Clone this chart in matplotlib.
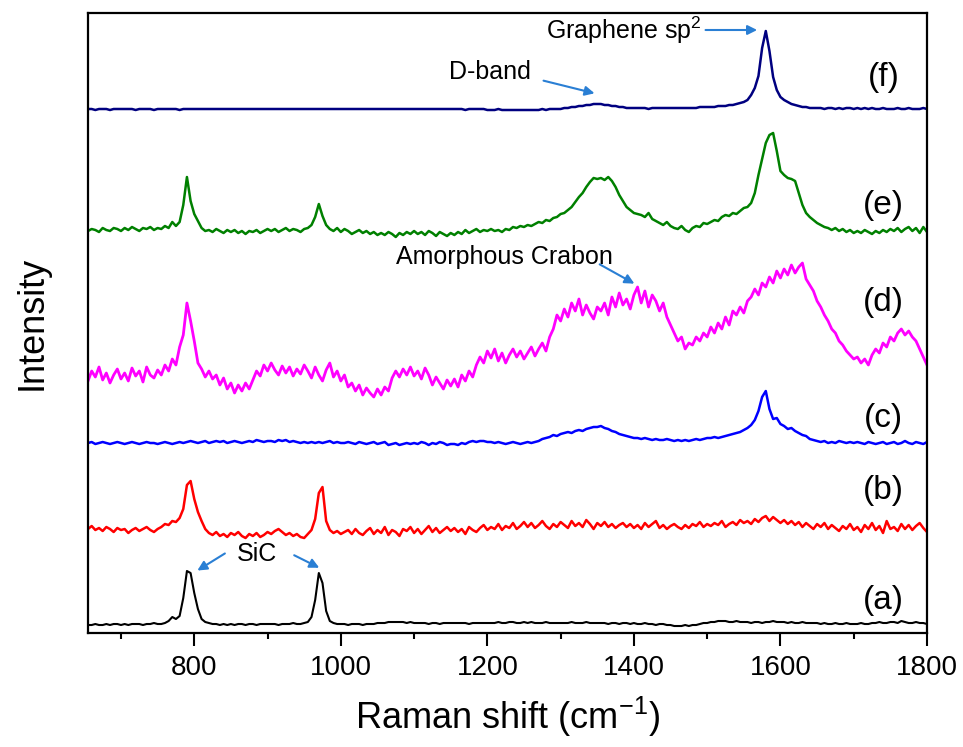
import numpy as np
import matplotlib
matplotlib.use("Agg")
import matplotlib.pyplot as plt

plt.rcParams['font.family'] = ['Liberation Sans', 'DejaVu Sans']
plt.rcParams['mathtext.fontset'] = 'custom'
plt.rcParams['mathtext.rm'] = 'Liberation Sans'
plt.rcParams['mathtext.default'] = 'regular'

# Raman shift grid (cm^-1), 5 cm^-1 steps from 655 to 1800
wn = np.arange(655, 1801, 5)

# intensities (arbitrary units, stacked offsets included)
spec_a = [8, 8, 9, 8, 8, 9, 8, 9, 9, 8,
          9, 8, 9, 9, 9, 8, 9, 9, 10, 9,
          9, 10, 12, 16, 14, 17, 35, 62, 60, 40,
          24, 14, 11, 10, 9, 9, 8, 9, 8, 9,
          8, 9, 9, 8, 9, 9, 8, 9, 9, 9,
          9, 9, 8, 9, 9, 9, 10, 9, 9, 10,
          11, 16, 33, 60, 50, 22, 12, 10, 9, 9,
          9, 8, 9, 9, 9, 8, 9, 9, 9, 10,
          10, 10, 11, 11, 11, 11, 11, 10, 11, 10,
          10, 10, 10, 9, 10, 10, 9, 10, 10, 10,
          10, 10, 10, 10, 9, 10, 10, 10, 10, 10,
          10, 10, 11, 10, 10, 11, 11, 10, 10, 11,
          10, 11, 10, 10, 10, 11, 10, 10, 10, 10,
          10, 10, 11, 10, 10, 10, 11, 10, 10, 10,
          10, 10, 9, 10, 10, 9, 10, 10, 9, 10,
          9, 9, 10, 9, 9, 8, 9, 9, 8, 8,
          7, 7, 7, 8, 7, 8, 8, 9, 10, 10,
          11, 11, 12, 12, 12, 11, 11, 12, 11, 11,
          11, 10, 11, 11, 10, 11, 11, 12, 11, 11,
          11, 10, 11, 10, 10, 11, 10, 10, 10, 10,
          9, 10, 9, 9, 10, 9, 9, 10, 9, 9,
          9, 10, 9, 9, 10, 10, 11, 10, 10, 11,
          11, 10, 12, 11, 10, 10, 11, 10, 10, 9]

spec_b = [104, 107, 103, 105, 102, 106, 104, 101, 105, 103,
          104, 100, 103, 105, 102, 104, 106, 103, 101, 104,
          106, 109, 108, 112, 111, 115, 124, 148, 152, 134,
          121, 112, 104, 100, 98, 101, 97, 99, 96, 100,
          98, 101, 97, 95, 99, 97, 100, 96, 98, 101,
          99, 102, 104, 101, 98, 100, 97, 99, 96, 95,
          99, 103, 114, 140, 146, 112, 103, 100, 102, 99,
          101, 103, 99, 104, 100, 98, 102, 105, 99, 103,
          100, 106, 98, 103, 101, 97, 104, 102, 106, 100,
          104, 99, 103, 107, 101, 105, 100, 103, 106, 102,
          105, 101, 104, 99, 106, 103, 101, 105, 108, 103,
          106, 104, 109, 103, 107, 105, 110, 104, 107, 111,
          106, 110, 105, 108, 112, 107, 104, 109, 106, 111,
          108, 105, 112, 107, 110, 106, 113, 109, 104, 110,
          107, 111, 106, 109, 105, 108, 110, 106, 109, 105,
          108, 104, 110, 106, 109, 112, 105, 108, 104, 107,
          109, 106, 104, 108, 105, 109, 107, 111, 106, 109,
          107, 110, 108, 112, 106, 109, 111, 108, 113, 110,
          112, 109, 114, 111, 115, 117, 112, 116, 113, 110,
          113, 109, 112, 108, 111, 106, 110, 107, 104, 109,
          106, 110, 104, 108, 105, 102, 107, 104, 109, 103,
          106, 101, 108, 104, 110, 103, 107, 100, 112, 104,
          106, 102, 109, 104, 108, 103, 107, 110, 105, 101]

spec_c = [190, 191, 189, 190, 191, 190, 189, 190, 191, 190,
          189, 190, 191, 190, 189, 190, 191, 190, 190, 189,
          190, 191, 190, 189, 190, 191, 190, 191, 192, 191,
          190, 191, 192, 190, 191, 192, 191, 192, 190, 191,
          192, 191, 190, 191, 192, 191, 193, 192, 191, 192,
          192, 191, 193, 192, 193, 191, 192, 191, 190, 191,
          190, 191, 190, 191, 190, 191, 192, 190, 191, 190,
          190, 191, 190, 189, 191, 190, 189, 190, 191, 189,
          190, 191, 188, 189, 190, 188, 189, 190, 189, 190,
          189, 191, 190, 188, 190, 189, 191, 190, 188, 189,
          189, 188, 190, 189, 191, 192, 191, 192, 192, 191,
          191, 190, 191, 190, 189, 190, 191, 190, 189, 190,
          191, 190, 191, 192, 194, 195, 196, 198, 197, 199,
          200, 201, 200, 202, 203, 202, 204, 205, 206, 206,
          207, 205, 204, 202, 201, 199, 198, 197, 196, 195,
          195, 194, 195, 194, 193, 194, 193, 193, 194, 193,
          192, 193, 192, 193, 192, 193, 194, 193, 194, 195,
          195, 196, 195, 196, 197, 198, 199, 200, 201, 203,
          205, 208, 213, 222, 236, 242, 224, 214, 215, 209,
          207, 204, 205, 202, 200, 198, 197, 194, 193, 192,
          191, 192, 190, 191, 190, 192, 191, 190, 191, 190,
          191, 190, 189, 191, 190, 189, 190, 191, 189, 190,
          191, 189, 190, 192, 190, 189, 191, 190, 189, 191]

spec_d = [252, 262, 256, 266, 253, 260, 250, 258, 264, 254,
          260, 252, 265, 257, 262, 251, 266, 258, 255, 263,
          258, 268, 262, 274, 268, 286, 298, 330, 312, 292,
          270, 264, 256, 262, 254, 258, 248, 255, 244, 250,
          240, 248, 242, 250, 244, 253, 262, 257, 268, 262,
          270, 263, 258, 267, 260, 266, 257, 264, 259, 268,
          262, 255, 266, 258, 252, 263, 270, 256, 262, 252,
          258, 246, 250, 242, 248, 238, 245, 240, 236, 244,
          238, 246, 242, 255, 262, 256, 264, 258, 266, 257,
          262, 254, 265, 258, 248, 256, 250, 244, 253, 247,
          254, 246, 258, 252, 262, 256, 268, 276, 270, 282,
          275, 284, 272, 280, 270, 278, 284, 276, 282, 274,
          280, 286, 277, 284, 290, 282, 296, 304, 318, 312,
          324, 316, 330, 322, 334, 318, 328, 320, 314, 326,
          322, 330, 318, 336, 326, 340, 328, 334, 324, 338,
          346, 330, 342, 326, 338, 332, 322, 330, 316, 308,
          300, 292, 296, 284, 290, 288, 296, 292, 300, 296,
          306, 300, 310, 304, 316, 308, 322, 318, 326, 320,
          332, 336, 344, 338, 350, 346, 356, 350, 362, 355,
          364, 358, 368, 360, 366, 370, 354, 348, 342, 332,
          326, 318, 312, 304, 300, 292, 288, 282, 278, 274,
          276, 270, 274, 268, 278, 284, 280, 290, 286, 296,
          292, 300, 304, 298, 302, 296, 292, 284, 276, 268]

spec_e = [402, 404, 403, 401, 405, 403, 402, 405, 404, 402,
          405, 403, 406, 404, 402, 405, 404, 406, 403, 405,
          404, 407, 405, 411, 407, 411, 428, 456, 432, 419,
          412, 405, 402, 403, 401, 404, 402, 400, 403, 401,
          403, 400, 402, 399, 402, 401, 403, 400, 402, 404,
          402, 404, 401, 403, 405, 402, 404, 403, 401, 404,
          405, 408, 416, 429, 417, 408, 404, 402, 405, 401,
          404, 402, 399, 401, 403, 400, 402, 399, 401, 398,
          400, 398, 401, 399, 396, 400, 398, 401, 399, 402,
          399, 401, 398, 402, 400, 397, 401, 399, 397, 400,
          398, 401, 399, 403, 400, 402, 404, 401, 403, 402,
          404, 402, 403, 401, 404, 403, 406, 405, 407, 406,
          408, 407, 409, 411, 410, 413, 412, 415, 416, 419,
          420, 423, 426, 431, 436, 440, 446, 451, 455, 454,
          455, 453, 456, 452, 446, 438, 432, 426, 423, 420,
          419, 418, 416, 420, 414, 412, 410, 408, 411, 407,
          405, 404, 407, 403, 401, 405, 407, 406, 410, 409,
          411, 413, 412, 416, 418, 417, 420, 419, 422, 425,
          426, 430, 440, 458, 474, 490, 498, 500, 482, 462,
          458, 455, 454, 452, 440, 428, 420, 416, 413, 410,
          408, 406, 405, 403, 405, 402, 404, 401, 403, 400,
          402, 400, 403, 401, 399, 402, 400, 403, 401, 404,
          402, 405, 401, 404, 406, 402, 405, 400, 406, 401]

spec_f = [524, 524, 523, 524, 524, 524, 523, 524, 524, 524,
          524, 524, 524, 523, 524, 524, 524, 524, 523, 524,
          524, 524, 524, 524, 524, 523, 524, 524, 524, 524,
          524, 524, 524, 524, 524, 524, 524, 524, 524, 524,
          524, 524, 524, 524, 524, 524, 524, 524, 524, 524,
          524, 524, 524, 524, 524, 524, 524, 524, 524, 524,
          524, 524, 524, 524, 524, 524, 524, 524, 524, 524,
          524, 524, 524, 524, 524, 524, 524, 524, 524, 524,
          524, 524, 524, 524, 524, 524, 524, 524, 524, 524,
          524, 524, 524, 524, 524, 524, 524, 524, 524, 524,
          524, 524, 524, 523, 524, 524, 524, 524, 524, 523,
          523, 523, 524, 523, 523, 523, 523, 523, 523, 523,
          523, 523, 523, 523, 524, 523, 524, 524, 524, 524,
          525, 525, 526, 526, 527, 527, 528, 528, 529, 529,
          529, 528, 528, 527, 527, 526, 526, 525, 525, 525,
          525, 525, 525, 524, 525, 525, 525, 525, 525, 525,
          525, 525, 525, 525, 525, 525, 525, 526, 526, 526,
          526, 526, 527, 527, 527, 528, 528, 529, 530, 531,
          533, 538, 545, 557, 585, 602, 582, 556, 543, 536,
          533, 531, 529, 528, 527, 526, 526, 525, 525, 525,
          525, 524, 525, 525, 524, 525, 524, 525, 525, 524,
          525, 524, 525, 524, 525, 524, 524, 525, 524, 524,
          524, 525, 524, 524, 525, 524, 524, 524, 525, 524]

spectra = [spec_a, spec_b, spec_c, spec_d, spec_e, spec_f]
colors = ['black', '#ff0000', '#0000ff', '#ff00ff', '#008000', '#000080']
widths = [1.5, 1.8, 1.8, 2.0, 1.8, 1.8]
panel_labels = ['(a)', '(b)', '(c)', '(d)', '(e)', '(f)']
label_y = [33, 143, 215, 331, 428, 555]

fig = plt.figure(figsize=(9.63, 7.47), dpi=100)
ax = fig.add_axes([0.0914, 0.1526, 0.8712, 0.83])

for spec, c, lw in zip(spectra, colors, widths):
    ax.plot(wn, spec, color=c, lw=lw)

for lab, yy in zip(panel_labels, label_y):
    ax.text(1741, yy, lab, fontsize=24, ha='center', va='center')

ax.set_xlim(655, 1800)
ax.set_ylim(0, 620)
ax.set_xticks([800, 1000, 1200, 1400, 1600, 1800])
ax.set_xticks([700, 900, 1100, 1300, 1500, 1700], minor=True)
ax.set_yticks([])
ax.tick_params(axis='x', which='major', direction='out', length=9, width=1.5,
               labelsize=20, pad=7)
ax.tick_params(axis='x', which='minor', direction='out', length=4.5, width=1.5)
for sp in ax.spines.values():
    sp.set_linewidth(1.6)

ax.set_xlabel('Raman shift (cm$^{-1}$)', fontsize=26, labelpad=10)
ax.set_ylabel('Intensity', fontsize=26, labelpad=28)

# annotations
arrow_col = '#2a7fd4'
aprops = dict(arrowstyle='-|>', color=arrow_col, lw=1.5, mutation_scale=14)
ax.text(886, 79, 'SiC', fontsize=18, ha='center', va='center')
ax.annotate('', xy=(801, 61), xytext=(845, 81), arrowprops=aprops)
ax.annotate('', xy=(974, 64), xytext=(933, 79), arrowprops=aprops)

ax.text(1493, 603, 'Graphene sp$^2$', fontsize=18, ha='right', va='center')
ax.annotate('', xy=(1572, 603), xytext=(1494, 603), arrowprops=aprops)

ax.text(1204, 561, 'D-band', fontsize=18, ha='center', va='center')
ax.annotate('', xy=(1350, 539), xytext=(1273, 553), arrowprops=aprops)

ax.text(1224, 376, 'Amorphous Crabon', fontsize=18, ha='center', va='center')
ax.annotate('', xy=(1404, 348), xytext=(1350, 370), arrowprops=aprops)

fig.savefig('out.png', dpi=100)
